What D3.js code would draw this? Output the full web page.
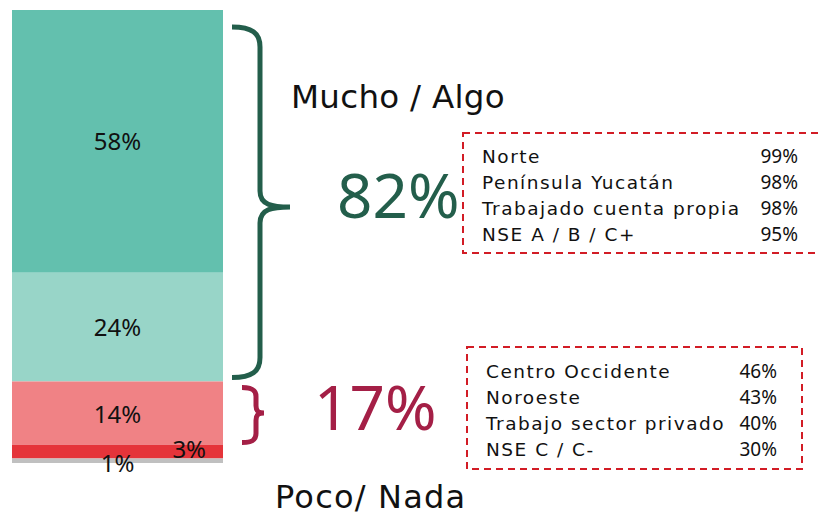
<!DOCTYPE html>
<html>
<head>
<meta charset="utf-8">
<script src="https://cdn.jsdelivr.net/npm/d3@7"></script>
<style>
    body { margin: 0; background: #fff; }
    text { font-family: "Noto Sans", sans-serif; }
    .word { font-family: "DejaVu Sans", sans-serif; }
</style>
</head>
<body>
<div id="chart"></div>
<script>
// Data
const segments = ['Mucho', 'Algo', 'Poco', 'Nada', 'NS/NC'];
const values = [58, 24, 14, 3, 1];

const groupLabels = ['Mucho / Algo', 'Poco/ Nada'];
const groupTotals = [82, 17];

const topLabels = ['Norte', 'Península Yucatán', 'Trabajado cuenta propia', 'NSE A / B / C+'];
const topValues = [99, 98, 98, 95];

const bottomLabels = ['Centro Occidente', 'Noroeste', 'Trabajo sector privado', 'NSE C / C-'];
const bottomValues = [46, 43, 40, 30];

// Styles
const colors = ['#63c0ae', '#98d5c8', '#f08285', '#e5343a', '#c0c0c0'];
const green = '#235e4b';
const red = '#a41f46';
const labelPos = [0.5, 0.5, 0.5, 0.84, 0.5];
const labelDy = [0, 0, 1, -2, 3];

const width = 818;
const height = 517;

const svg = d3.select("#chart")
    .append("svg")
    .attr("width", width)
    .attr("height", height);

const x = d3.scaleBand()
    .domain(['total'])
    .range([12, 223])
    .padding(0);

const y = d3.scaleLinear()
    .domain([0, d3.sum(values)])
    .range([10, 463]);

const ends = Array.from(d3.cumsum(values));
const stack = values.map((v, i) => ({ key: segments[i], v, y0: ends[i] - v, y1: ends[i] }));

// Stacked bar
svg.selectAll(".seg")
    .data(stack)
    .enter().append("rect")
    .attr("class", "seg")
    .attr("x", x('total'))
    .attr("width", x.bandwidth())
    .attr("y", d => y(d.y0))
    .attr("height", d => y(d.y1) - y(d.y0))
    .attr("fill", (d, i) => colors[i]);

svg.selectAll(".seg-label")
    .data(stack)
    .enter().append("text")
    .attr("class", "seg-label")
    .attr("x", (d, i) => x('total') + x.bandwidth() * labelPos[i])
    .attr("y", (d, i) => (y(d.y0) + y(d.y1)) / 2 + labelDy[i])
    .attr("dy", "0.35em")
    .attr("text-anchor", "middle")
    .attr("font-size", 24)
    .attr("fill", "#111")
    .text(d => d.v + "%");

// Curly braces
function brace(x0, xm, x1, ya, yb, ymid, r) {
    return `M${x0},${ya} C${xm - r * 0.4},${ya} ${xm},${ya + r * 0.3} ${xm},${ya + r}` +
        ` L${xm},${ymid - r * 0.8} C${xm},${ymid - r * 0.1} ${x1 - (x1 - xm) * 0.6},${ymid} ${x1},${ymid}` +
        ` C${x1 - (x1 - xm) * 0.6},${ymid} ${xm},${ymid + r * 0.1} ${xm},${ymid + r * 0.8}` +
        ` L${xm},${yb - r} C${xm},${yb - r * 0.3} ${xm - r * 0.4},${yb} ${x0},${yb}`;
}

svg.append("path")
    .attr("d", brace(232, 260, 290, y(0) + 17, y(groupTotals[0]) - 4, 207, 20))
    .attr("fill", "none")
    .attr("stroke", green)
    .attr("stroke-width", 5);

svg.append("path")
    .attr("d", brace(242, 256, 264, y(groupTotals[0]) + 6, y(groupTotals[0] + 13.5), 413, 9))
    .attr("fill", "none")
    .attr("stroke", red)
    .attr("stroke-width", 5);

// Group labels and totals
svg.append("text")
    .attr("class", "word")
    .attr("x", 291)
    .attr("y", 108)
    .attr("font-size", 32.5)
    .attr("letter-spacing", 0.3)
    .attr("fill", "#111")
    .text(groupLabels[0]);

svg.append("text")
    .attr("class", "word")
    .attr("x", 275)
    .attr("y", 508)
    .attr("font-size", 32)
    .attr("letter-spacing", 1.2)
    .attr("fill", "#111")
    .text(groupLabels[1]);

svg.append("text")
    .attr("x", 337)
    .attr("y", 218)
    .attr("font-size", 62)
    .attr("fill", green)
    .text(groupTotals[0] + "%");

svg.append("text")
    .attr("x", 314)
    .attr("y", 430)
    .attr("font-size", 62)
    .attr("fill", red)
    .text(groupTotals[1] + "%");

// Dashed boxes
function drawBox(box, labels, vals) {
    svg.append("rect")
        .attr("x", box.x)
        .attr("y", box.y)
        .attr("width", box.w)
        .attr("height", box.h)
        .attr("fill", "none")
        .attr("stroke", "#d21c25")
        .attr("stroke-width", 2)
        .attr("stroke-dasharray", "7,5");

    const g = svg.append("g");
    g.selectAll(".lbl")
        .data(labels)
        .enter().append("text")
        .attr("class", "lbl word")
        .attr("x", box.tx)
        .attr("y", (d, i) => box.ty + i * box.step)
        .attr("font-size", 18.5)
        .attr("letter-spacing", 1.5)
        .attr("fill", "#111")
        .text(d => d);

    g.selectAll(".val")
        .data(vals)
        .enter().append("text")
        .attr("class", "val")
        .attr("x", box.vx)
        .attr("y", (d, i) => box.ty + i * box.step)
        .attr("text-anchor", "end")
        .attr("font-size", 19)
        .attr("fill", "#111")
        .text(d => d + "%");
}

drawBox({ x: 463, y: 133, w: 362, h: 120, tx: 482, ty: 163, step: 26, vx: 798 }, topLabels, topValues);
drawBox({ x: 467, y: 347, w: 335, h: 122, tx: 486, ty: 378, step: 26, vx: 777 }, bottomLabels, bottomValues);
</script>
</body>
</html>
